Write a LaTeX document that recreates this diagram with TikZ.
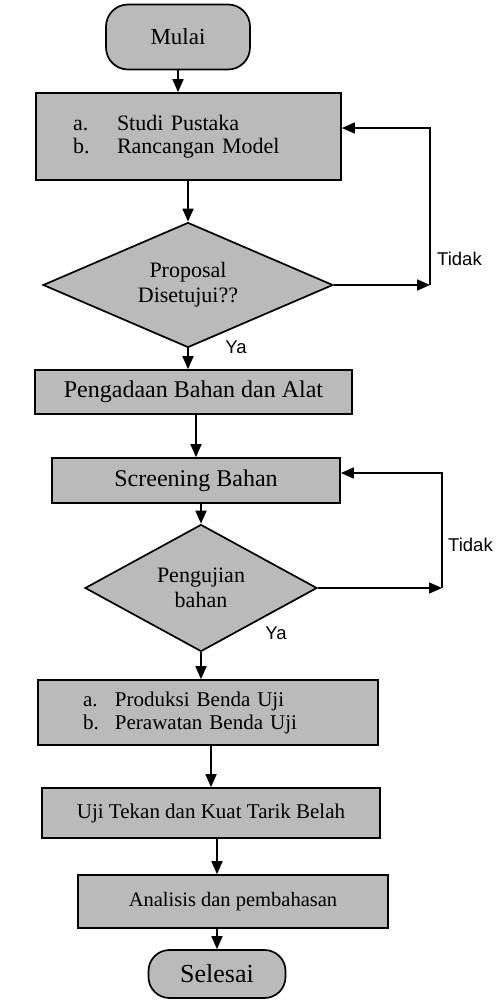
\documentclass[tikz,border=0pt]{standalone}
\usepackage{fontspec}
\setmainfont{Liberation Serif}
\newfontfamily\sansf{Liberation Sans}
\usetikzlibrary{shapes.geometric,arrows.meta}
\tikzset{
  shade/.style={fill=black!27, draw=black, line width=1.7pt},
  procbox/.style={shade, rectangle, inner sep=0pt, font=\fontsize{22}{23}\selectfont},
  termbox/.style={shade, rectangle, inner sep=0pt, font=\fontsize{23}{24}\selectfont},
  decbox/.style={shade, diamond, inner sep=0pt, align=center, font=\fontsize{22}{25}\selectfont},
  arr/.style={line width=1.7pt, -{Triangle[length=13pt,width=11pt]}},
  lab/.style={font=\sansf\fontsize{18.5}{19}\selectfont, inner sep=0pt}
}
\begin{document}
\begin{tikzpicture}[x=1pt,y=-1pt]
\useasboundingbox (0,0) rectangle (497,1007);
\node[termbox, rounded corners=22pt, minimum width=144pt, minimum height=65pt] (mulai) at (178,37) {Mulai};
\node[procbox, minimum width=305pt, minimum height=87pt, inner xsep=37pt, text width=231pt, align=left] (b1) at (188.5,136.5)
  {\makebox[44pt][l]{a.}Studi Pustaka\\\makebox[44pt][l]{b.}Rancangan Model};
\node[decbox, aspect=2.3, minimum width=290pt, minimum height=125pt] (d1) at (188,285) {Proposal\\Disetujui??};
\node[procbox, font=\fontsize{24}{25}\selectfont, minimum width=317pt, minimum height=44pt] (b2) at (193.5,392) {Pengadaan Bahan dan Alat};
\node[procbox, font=\fontsize{24}{25}\selectfont, minimum width=288pt, minimum height=45pt] (b3) at (196,480.5) {Screening Bahan};
\node[decbox, aspect=1.83, minimum width=232pt, minimum height=127pt] (d2) at (201,588) {Pengujian\\bahan};
\node[procbox, font=\fontsize{21}{23}\selectfont, minimum width=340pt, minimum height=65pt, inner xsep=45pt, text width=250pt, align=left] (b4) at (208,712.5)
  {\makebox[32pt][l]{a.}Produksi Benda Uji\\\makebox[32pt][l]{b.}Perawatan Benda Uji};
\node[procbox, font=\fontsize{21}{22}\selectfont, minimum width=338pt, minimum height=50pt] (b5) at (211,813) {Uji Tekan dan Kuat Tarik Belah};
\node[procbox, font=\fontsize{20.5}{22}\selectfont, minimum width=310pt, minimum height=53pt] (b6) at (233,901.5) {Analisis dan pembahasan};
\node[termbox, font=\fontsize{26}{27}\selectfont, rounded corners=21pt, minimum width=137pt, minimum height=48pt] (sel) at (217,974) {Selesai};

\coordinate (t1) at (430,0);
\coordinate (t2) at (442,0);

\draw[arr] (mulai.south) -- (mulai.south |- b1.north);
\draw[arr] (b1.south -| d1.north) -- (d1.north);
\draw[arr] (d1.south) -- (d1.south |- b2.north);
\draw[arr] (b2.south -| b3.north) -- (b3.north);
\draw[arr] (b3.south -| d2.north) -- (d2.north);
\draw[arr] (d2.south) -- (d2.south |- b4.north);
\draw[arr] (b4.south -| b5.north) -- (b5.north);
\draw[arr] (b5.south -| sel.north) -- (b6.north -| sel.north);
\draw[arr] (b6.south -| sel.north) -- (sel.north);

\draw[arr] (d1.east) -- (d1.east -| t1);
\draw[arr] (d1.east -| t1) -- ([yshift=8.5pt]b1.east -| t1) -- ([yshift=8.5pt]b1.east);
\draw[arr] (d2.east) -- (d2.east -| t2);
\draw[arr] (d2.east -| t2) -- ([yshift=7.5pt]b3.east -| t2) -- ([yshift=7.5pt]b3.east);

\node[lab, anchor=west] (tidak1) at (437,259) {Tidak};
\node[lab, anchor=west] (tidak2) at (448,545) {Tidak};
\node[lab] (ya1) at (236,347) {Ya};
\node[lab] (ya2) at (276,633) {Ya};
\end{tikzpicture}
\end{document}
